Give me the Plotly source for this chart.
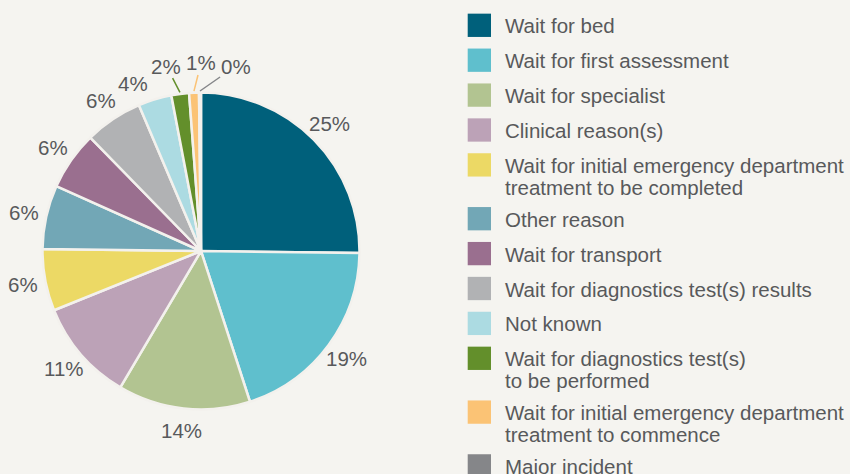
import math
import plotly.graph_objects as go

# ---- data ----
categories = [
    "Wait for bed",
    "Wait for first assessment",
    "Wait for specialist",
    "Clinical reason(s)",
    "Wait for initial emergency department<br>treatment to be completed",
    "Other reason",
    "Wait for transport",
    "Wait for diagnostics test(s) results",
    "Not known",
    "Wait for diagnostics test(s)<br>to be performed",
    "Wait for initial emergency department<br>treatment to commence",
    "Major incident",
]
values = [25.2, 19.8, 13.5, 10.4, 6.3, 6.5, 6.0, 5.9, 3.4, 1.8, 1.0, 0.2]
pct_labels = ["25%", "19%", "14%", "11%", "6%", "6%", "6%", "6%", "4%", "2%", "1%", "0%"]
colors = [
    "#00607b", "#5fbfcd", "#b2c491", "#bca2b7", "#ecd965", "#72a7b6",
    "#9a6f8f", "#b1b2b4", "#acdbe2", "#638f2b", "#fbc375", "#858689",
]

# ---- layout constants ----
W, H = 850, 474
BG = "#f5f4f0"
TXT = "#58595b"
FONT = "Liberation Sans"
FS = 20.5
CX, CY, R = 201.0, 251.0, 158.5
LABEL_R = 181.0
TINY_R = 188.0
TINY_STEP = 10.6


def px(x):
    return x / W


def py(y):
    return 1 - y / H


def text_w(s):
    return sum(0.89 if ch == "%" else 0.556 for ch in s) * FS


fig = go.Figure(
    go.Pie(
        labels=[c.replace("<br>", " ") for c in categories],
        values=values,
        sort=False,
        direction="clockwise",
        rotation=0,
        marker=dict(colors=colors, line=dict(color="#f3f1ed", width=2.5)),
        textinfo="none",
        hoverinfo="label+percent",
        domain=dict(x=[px(CX - R), px(CX + R)], y=[py(CY + R), py(CY - R)]),
        showlegend=False,
    )
)

annotations = []
shapes = []

# slice mid angles
total = sum(values)
cum = 0.0
mids = []
for v in values:
    mids.append((cum + v / 2) / total * 360.0)
    cum += v

tiny = [i for i, v in enumerate(values) if v / total < 0.03]
boxes = []
n = len(tiny)
for j, i in enumerate(tiny):
    la = math.radians((j - (n - 1) / 2) * TINY_STEP)
    lx = CX + TINY_R * math.sin(la)
    ly = CY - TINY_R * math.cos(la)
    a = math.radians(mids[i])
    ex = CX + (R + 1.5) * math.sin(a)
    ey = CY - (R + 1.5) * math.cos(a)
    boxes.append((lx, ly, text_w(pct_labels[i]) / 2, 9))
    annotations.append(dict(
        x=px(ex), y=py(ey), xref="paper", yref="paper", text=pct_labels[i],
        showarrow=True, arrowhead=0, arrowwidth=1.5, arrowcolor=colors[i],
        ax=lx - ex, ay=ly - ey, standoff=0, startstandoff=0, borderpad=0,
        font=dict(family=FONT, size=FS, color=TXT),
    ))


def overlaps(x, y, hw, hh):
    for bx, by, bw, bh in boxes:
        if abs(x - bx) < hw + bw + 2 and abs(y - by) < hh + bh + 2:
            return True
    return False


# regular labels, walking backwards so neighbours of the small slices get nudged away
for i in reversed(range(len(values))):
    if i in tiny:
        continue
    ang = mids[i]
    hw = text_w(pct_labels[i]) / 2
    while True:
        a = math.radians(ang)
        x = CX + LABEL_R * math.sin(a)
        y = CY - LABEL_R * math.cos(a)
        if not overlaps(x, y, hw, 9):
            break
        ang -= 0.5
    boxes.append((x, y, hw, 9))
    annotations.append(dict(
        x=px(x), y=py(y), xref="paper", yref="paper", text=pct_labels[i],
        showarrow=False, xanchor="center", yanchor="middle",
        font=dict(family=FONT, size=FS, color=TXT),
    ))

# custom legend
SQ_X0, SQ = 467.7, 23.3
TX = 503.0
STEP = 34.9
EXTRA = 18.9
LINE = 21.7
yc = 25.3
for i, cat in enumerate(categories):
    lines = cat.split("<br>")
    shapes.append(dict(
        type="rect", xref="paper", yref="paper",
        x0=px(SQ_X0), x1=px(SQ_X0 + SQ), y0=py(yc + SQ / 2), y1=py(yc - SQ / 2),
        fillcolor=colors[i], line=dict(width=0),
    ))
    for k, ln in enumerate(lines):
        annotations.append(dict(
            x=px(TX), y=py(yc + k * LINE + 0.5), xref="paper", yref="paper", text=ln,
            showarrow=False, xanchor="left", yanchor="middle",
            font=dict(family=FONT, size=FS, color=TXT),
        ))
    yc += STEP + EXTRA * (len(lines) - 1)

fig.update_layout(
    width=W, height=H, autosize=False,
    margin=dict(l=0, r=0, t=0, b=0),
    paper_bgcolor=BG, plot_bgcolor=BG,
    annotations=annotations, shapes=shapes,
    font=dict(family=FONT, color=TXT),
)

fig.write_html(
    "out.html",
    config={"displayModeBar": False},
    post_script="document.body.style.margin='0';document.body.style.background='%s';" % BG,
)
